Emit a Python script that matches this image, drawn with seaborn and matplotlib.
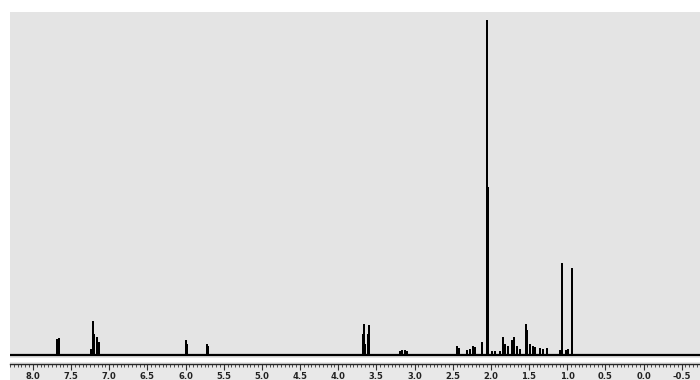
import numpy as np
import pandas as pd
import matplotlib
matplotlib.use('Agg')
import matplotlib.pyplot as plt
from matplotlib.ticker import MultipleLocator, FormatStrFormatter
import seaborn as sns

# peak list: shift (ppm) and intensity (arbitrary units)
shift_ppm = [7.686, 7.662, 7.24, 7.214, 7.195, 7.16, 7.135,
             6.00, 5.985, 5.725, 5.712,
             3.67, 3.665, 3.655, 3.61, 3.60, 3.595,
             3.19, 3.16, 3.13, 3.10,
             2.447, 2.42, 2.316, 2.277, 2.237, 2.211, 2.119,
             2.045, 2.035,
             1.99, 1.94, 1.88, 1.844, 1.818, 1.779, 1.727, 1.70, 1.66, 1.62,
             1.543, 1.53, 1.49, 1.45, 1.425, 1.36, 1.32, 1.27,
             1.10, 1.071, 1.065, 1.02, 0.99, 0.94, 0.935]
intensity = [15, 16, 5, 33, 20, 17, 12,
             14, 10, 10, 8,
             20, 30, 10, 20, 29, 12,
             3, 4, 4, 3,
             8, 6, 4, 5, 8, 7, 12,
             334, 167,
             3, 3, 3, 17, 10, 8, 14, 17, 8, 5,
             30, 24, 10, 8, 7, 6, 5, 6,
             4, 91, 55, 4, 5, 86, 20]

tick_ppm = [8.0, 7.5, 7.0, 6.5, 6.0, 5.5, 5.0, 4.5, 4.0, 3.5, 3.0,
            2.5, 2.0, 1.5, 1.0, 0.5, 0.0, -0.5]

x_left, x_right = 8.30, -0.74

sns.set_style('white')
plt.rcParams['font.family'] = ['DejaVu Sans']

# stick trace: baseline with a vertical spike per peak
xs, ys = [x_left], [0]
for p, h in sorted(zip(shift_ppm, intensity), key=lambda t: -t[0]):
    xs += [p, p, p]
    ys += [0, h, 0]
xs.append(x_right)
ys.append(0)
trace = pd.DataFrame({'ppm': xs, 'intensity': ys})

fig = plt.figure(figsize=(7, 3.8), dpi=100)
fig.patch.set_facecolor('white')

ax = fig.add_axes([10 / 700, 22 / 380, 690 / 700, 346 / 380])
ax.set_facecolor('#e4e4e4')
sns.lineplot(data=trace, x='ppm', y='intensity', sort=False, estimator=None,
             color='black', lw=1.2, ax=ax)
ax.axhline(0, color='black', lw=1.6)
ax.set_xlim(x_left, x_right)
ax.set_ylim(-3, 343)
ax.set_xticks([])
ax.set_yticks([])
ax.set_xlabel('')
ax.set_ylabel('')
for s in ax.spines.values():
    s.set_visible(False)

# ppm scale below the spectrum
sc = fig.add_axes([10 / 700, 0, 690 / 700, 18 / 380])
sc.set_facecolor('#e8e8e8')
sc.set_xlim(x_left, x_right)
sc.set_yticks([])
for k in ['top', 'left', 'right']:
    sc.spines[k].set_visible(False)
sc.spines['bottom'].set_position(('axes', 16 / 18))
sc.spines['bottom'].set_linewidth(1.0)
sc.set_xticks(tick_ppm)
sc.xaxis.set_major_formatter(FormatStrFormatter('%.1f'))
sc.xaxis.set_minor_locator(MultipleLocator(0.05))
sc.tick_params(axis='x', which='both', bottom=True, direction='out', color='#333333')
sc.tick_params(axis='x', which='major', length=4, width=0.8, pad=1.5,
               labelsize=6, labelcolor='#222222')
sc.tick_params(axis='x', which='minor', length=2, width=0.6)
for lab in sc.get_xticklabels():
    lab.set_fontweight('bold')

fig.savefig('out.png', dpi=100, facecolor=fig.get_facecolor())
